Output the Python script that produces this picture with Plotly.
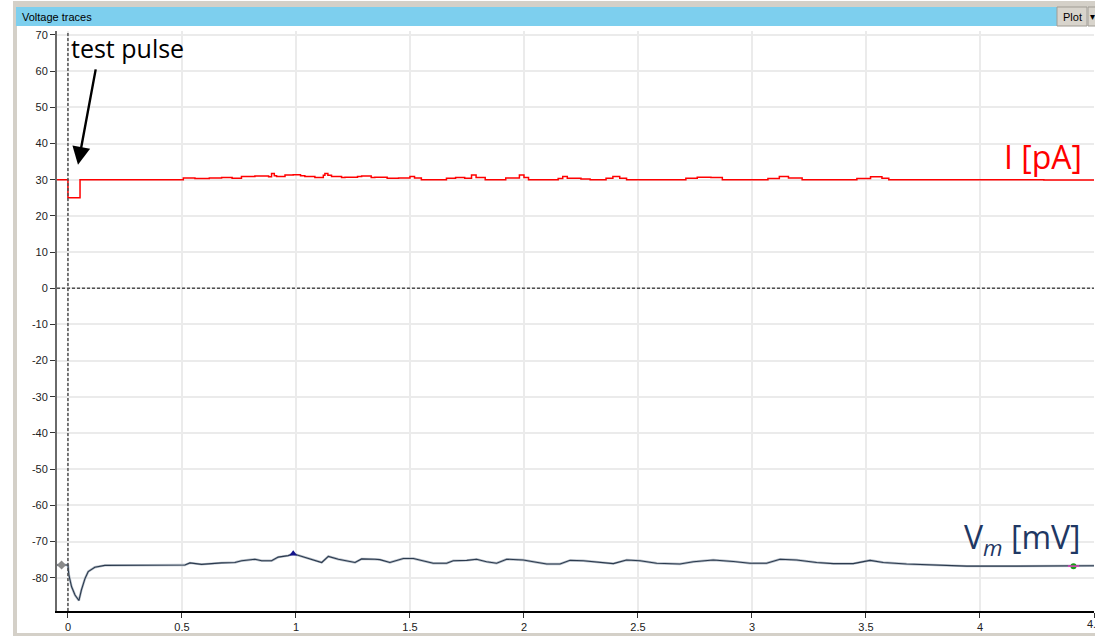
import plotly.graph_objects as go

# ---------------- data ----------------
x_ticks = [0, 0.5, 1, 1.5, 2, 2.5, 3, 3.5, 4, 4.5]
x_tick_labels = ["0", "0.5", "1", "1.5", "2", "2.5", "3", "3.5", "4", "4.5"]
y_ticks = [70, 60, 50, 40, 30, 20, 10, 0, -10, -20, -30, -40, -50, -60, -70, -80]
y_tick_labels = [str(v) for v in y_ticks]

# injected current (step trace)
i_time = [-0.048, 0.0, 0.053, 0.506, 0.557, 0.62, 0.674, 0.72, 0.761, 0.82, 0.88, 0.893, 0.905,
          0.915, 0.952, 0.988, 1.02, 1.039, 1.083, 1.12, 1.127, 1.14, 1.156, 1.20, 1.215, 1.27,
          1.288, 1.33, 1.346, 1.40, 1.45, 1.50, 1.52, 1.55, 1.66, 1.70, 1.74, 1.77, 1.79, 1.83,
          1.92, 1.98, 2.00, 2.02, 2.15, 2.17, 2.19, 2.25, 2.29, 2.36, 2.39, 2.42, 2.45, 2.71,
          2.76, 2.82, 2.87, 3.07, 3.12, 3.16, 3.22, 3.46, 3.52, 3.57, 3.60, 4.28, 4.5]
i_current = [30.0, 25.0, 30.0, 30.5, 30.3, 30.5, 30.6, 30.4, 30.9, 31.0, 30.8, 31.7, 31.1,
             30.9, 31.3, 31.4, 31.1, 30.9, 30.6, 31.2, 31.7, 31.2, 30.9, 30.6, 30.7, 30.9,
             31.0, 30.6, 30.7, 30.4, 30.5, 30.9, 30.5, 30.0, 30.4, 30.6, 30.4, 31.3, 30.6, 30.0,
             30.5, 31.3, 30.6, 30.0, 30.3, 30.9, 30.4, 30.2, 30.0, 30.4, 30.9, 30.4, 30.0, 30.4,
             30.7, 30.6, 30.0, 30.3, 30.9, 30.5, 30.0, 30.3, 30.8, 30.4, 30.0, 29.9, 29.9]

# membrane potential
v_time = [-0.048, 0.0, 0.004, 0.016, 0.031, 0.048, 0.059, 0.075, 0.089, 0.118, 0.162, 0.30,
          0.513, 0.535, 0.586, 0.674, 0.732, 0.762, 0.82, 0.85, 0.893, 0.922, 0.966, 0.988,
          1.025, 1.069, 1.113, 1.142, 1.186, 1.259, 1.288, 1.346, 1.368, 1.412, 1.471, 1.515,
          1.558, 1.602, 1.661, 1.69, 1.749, 1.792, 1.836, 1.88, 1.924, 1.997, 2.041, 2.1, 2.158,
          2.202, 2.26, 2.319, 2.392, 2.45, 2.509, 2.582, 2.684, 2.743, 2.794, 2.83, 2.918, 2.991,
          3.064, 3.123, 3.196, 3.284, 3.357, 3.444, 3.518, 3.576, 3.678, 3.781, 3.942, 4.161,
          4.41, 4.5]
v_mem = [-76.5, -76.5, -79.2, -82.5, -84.8, -86.3, -83.4, -80.2, -78.3, -77.1, -76.6, -76.5,
         -76.5, -75.9, -76.3, -75.9, -75.8, -75.3, -74.9, -75.3, -75.3, -74.3, -73.9, -73.4,
         -74.1, -74.9, -75.8, -74.1, -74.9, -75.8, -74.8, -74.9, -75.0, -75.8, -74.7, -74.7,
         -75.3, -76.0, -76.0, -75.3, -75.2, -74.9, -75.6, -76.0, -74.9, -75.1, -75.6, -76.2, -76.2,
         -75.2, -75.3, -75.7, -76.1, -75.1, -75.3, -76.0, -76.2, -75.6, -75.2, -75.1, -75.5, -76.0,
         -76.0, -74.9, -75.1, -75.8, -76.1, -76.1, -75.2, -75.8, -76.2, -76.5, -76.8, -76.8,
         -76.8, -76.7]

cursor_t = [-0.028]
cursor_v = [-76.5]
peak_t = [0.988]
peak_v = [-73.4]
end_t = [4.41]
end_v = [-76.8]

# ---------------- geometry helpers (pixel -> paper) ----------------
W, H = 1095, 636
ML, MR, MT, MB = 57, 1, 31, 25
PW, PH = W - ML - MR, H - MT - MB


def px(x):
    return (x - ML) / PW


def py(y):
    return (H - MB - y) / PH


fig = go.Figure()

fig.add_trace(go.Scatter(x=i_time, y=i_current, mode="lines", line=dict(color="#ff0000", width=1.5, shape="hv"),
                         hoverinfo="skip", showlegend=False))
fig.add_trace(go.Scatter(x=v_time, y=v_mem, mode="lines", line=dict(color="#b4bcc6", width=2.4),
                         hoverinfo="skip", showlegend=False))
fig.add_trace(go.Scatter(x=v_time, y=v_mem, mode="lines", line=dict(color="#2b3a4e", width=1.1),
                         hoverinfo="skip", showlegend=False))
fig.add_trace(go.Scatter(x=cursor_t, y=cursor_v, mode="markers",
                         marker=dict(symbol="diamond", size=7, color="#8a8a8a"), showlegend=False))
fig.add_trace(go.Scatter(x=peak_t, y=peak_v, mode="markers",
                         marker=dict(symbol="triangle-up", size=7, color="#14148c"), showlegend=False))
fig.add_trace(go.Scatter(x=end_t, y=end_v, mode="markers",
                         marker=dict(symbol="circle", size=6, color="#1a9a1a"), showlegend=False))
fig.add_trace(go.Scatter(x=end_t, y=end_v, mode="markers",
                         marker=dict(symbol="line-ew", size=8, line=dict(color="#e040c0", width=1.5)),
                         showlegend=False))

shapes = []
# window chrome
shapes.append(dict(type="rect", xref="paper", yref="paper", x0=px(13), x1=px(17), y0=py(H + 2), y1=py(1),
                   fillcolor="#d4d0c8", line=dict(width=0)))
shapes.append(dict(type="rect", xref="paper", yref="paper", x0=px(13), x1=px(W + 2), y0=py(7), y1=py(1),
                   fillcolor="#d4d0c8", line=dict(width=0)))
shapes.append(dict(type="rect", xref="paper", yref="paper", x0=px(13), x1=px(W + 2), y0=py(H + 2), y1=py(633),
                   fillcolor="#d4d0c8", line=dict(width=0)))
shapes.append(dict(type="rect", xref="paper", yref="paper", x0=px(16), x1=px(1057), y0=py(26), y1=py(7),
                   fillcolor="#7dcfee", line=dict(width=0)))
shapes.append(dict(type="rect", xref="paper", yref="paper", x0=px(1057), x1=px(1087), y0=py(26), y1=py(7),
                   fillcolor="#d8d4cc", line=dict(color="#a09c94", width=1)))
shapes.append(dict(type="rect", xref="paper", yref="paper", x0=px(1088), x1=px(W + 2), y0=py(26), y1=py(7),
                   fillcolor="#d8d4cc", line=dict(color="#a09c94", width=1)))
# reference dotted lines
shapes.append(dict(type="line", xref="x", yref="paper", x0=0, x1=0, y0=0, y1=1,
                   line=dict(color="#505050", width=1.5, dash="3px,2px")))
shapes.append(dict(type="line", xref="paper", yref="y", x0=0, x1=1, y0=0, y1=0,
                   line=dict(color="#505050", width=1.5, dash="3px,2px")))

annotations = [
    dict(xref="paper", yref="paper", x=px(20), y=py(16.5), text="Voltage traces", showarrow=False,
         xanchor="left", yanchor="middle", font=dict(family="Liberation Sans", size=11, color="#000000")),
    dict(xref="paper", yref="paper", x=px(1072), y=py(16.5), text="Plot", showarrow=False,
         xanchor="center", yanchor="middle", font=dict(family="Liberation Sans", size=11, color="#000000")),
    dict(xref="paper", yref="paper", x=px(1092), y=py(16.5), text="▾", showarrow=False,
         xanchor="center", yanchor="middle", font=dict(family="DejaVu Sans", size=10, color="#000000")),
    # last x tick label, drawn at the paper edge so the window clips it like the reference
    dict(xref="x", yref="paper", x=x_ticks[-1], y=py(616), text=x_tick_labels[-1], showarrow=False,
         xanchor="center", yanchor="top", font=dict(family="Liberation Sans", size=11, color="#222222")),
    dict(xref="x", yref="y", x=0.004, y=66.5, text="test pulse", showarrow=False,
         xanchor="left", yanchor="middle", font=dict(family="Open Sans", size=25, color="#000000")),
    dict(xref="x", yref="y", x=0.044, y=34.1, text="", showarrow=True, ax=18, ay=-97,
         arrowhead=2, arrowsize=1.5, arrowwidth=2.4, arrowcolor="#000000", standoff=0),
    dict(xref="x", yref="y", x=4.456, y=36.3, text="I [pA]", showarrow=False,
         xanchor="right", yanchor="middle", font=dict(family="Open Sans", size=32, color="#ff0000")),
    dict(xref="x", yref="y", x=4.452, y=-69.3, text="V<sub><i>m</i></sub> [mV]", showarrow=False,
         xanchor="right", yanchor="middle", font=dict(family="Open Sans", size=32, color="#1f3864")),
]

fig.update_layout(
    width=W, height=H,
    margin=dict(l=ML, r=MR, t=MT, b=MB, pad=0, autoexpand=False),
    paper_bgcolor="#ffffff", plot_bgcolor="#ffffff",
    shapes=shapes, annotations=annotations,
    showlegend=False,
    xaxis=dict(range=[-0.048, 4.5], tickvals=x_ticks, ticktext=x_tick_labels[:-1] + [""],
               showgrid=True, gridcolor="#ebebeb", gridwidth=1.5, zeroline=False,
               showline=True, linecolor="#000000", linewidth=1.5, automargin=False,
               ticks="outside", ticklen=5, tickcolor="#333333", tickwidth=1,
               tickfont=dict(family="Liberation Sans", size=11, color="#222222")),
    yaxis=dict(range=[-89.2, 71.1], tickvals=y_ticks, ticktext=y_tick_labels,
               showgrid=True, gridcolor="#ebebeb", gridwidth=1.5, zeroline=False,
               showline=True, linecolor="#6a6a6a", linewidth=2, automargin=False,
               ticks="outside", ticklen=5, tickcolor="#333333", tickwidth=1,
               tickfont=dict(family="Liberation Sans", size=11, color="#222222")),
)

fig.write_html("out.html", config={"displayModeBar": False},
               post_script="document.body.style.margin='0';document.body.style.overflow='hidden';")
